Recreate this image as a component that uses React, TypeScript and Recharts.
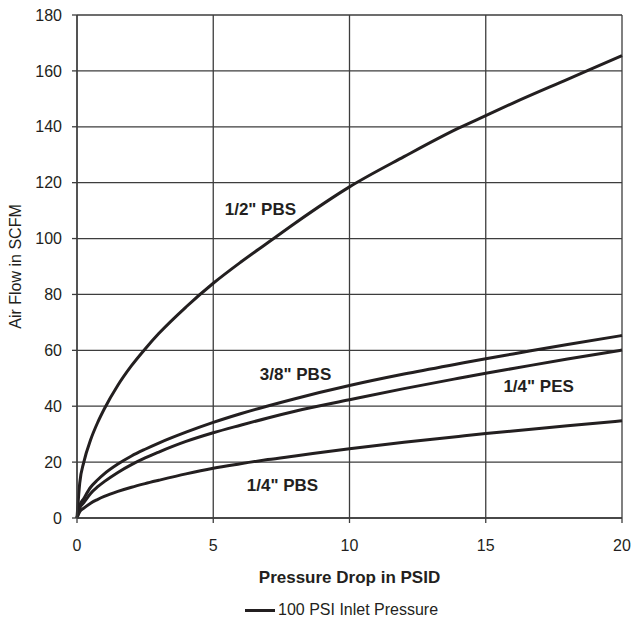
import React from "react";
import {
  LineChart,
  Line,
  XAxis,
  YAxis,
  CartesianGrid,
  ReferenceDot,
} from "recharts";

// Pressure drop (PSID) sample points
const pressureDrop = [0, 0.1, 0.25, 0.5, 0.75, 1, 1.5, 2, 2.5, 3, 4, 5, 6, 7, 8, 10, 12, 14, 15, 16, 18, 20];

// Air flow (SCFM)
const halfPbs = [0, 12.5, 20, 28, 34, 39, 47.5, 54.5, 60.5, 66, 75.5, 84, 91.5, 98.5, 105.5, 118.5, 129.3, 139.5, 144, 148.5, 157, 165.5];
const threeEighthPbs = [0, 4.5, 7, 11, 13.6, 15.8, 19.3, 22.2, 24.6, 26.8, 30.7, 34.2, 37.3, 40.1, 42.7, 47.4, 51.5, 55.2, 57, 58.7, 62.1, 65.3];
const quarterPes = [0, 3.5, 5.5, 8.8, 11.1, 13, 16.3, 19.1, 21.5, 23.6, 27.4, 30.5, 33.2, 35.8, 38.2, 42.3, 46.3, 50, 51.8, 53.5, 56.9, 60.1];
const quarterPbs = [0, 2.2, 3.5, 5.3, 6.6, 7.7, 9.5, 11, 12.3, 13.5, 15.8, 17.8, 19.4, 20.9, 22.2, 24.8, 27.1, 29.2, 30.2, 31.1, 33, 34.8];

const xTicks = [0, 5, 10, 15, 20];
const yTicks = [0, 20, 40, 60, 80, 100, 120, 140, 160, 180];

// Curve captions and where they sit (data coords)
const curveLabels = [
  { text: '1/2" PBS', x: 6.73, y: 110.6 },
  { text: '3/8" PBS', x: 8.02, y: 51.7 },
  { text: '1/4" PES', x: 16.94, y: 47.1 },
  { text: '1/4" PBS', x: 7.54, y: 11.8 },
];

const series = [
  { key: "halfPbs", values: halfPbs },
  { key: "threeEighthPbs", values: threeEighthPbs },
  { key: "quarterPes", values: quarterPes },
  { key: "quarterPbs", values: quarterPbs },
];

const INK = "#231f20";
const GRID = "#3d3d3d";

const chartData = pressureDrop.map((x, i) => {
  const point: Record<string, number> = { x };
  series.forEach((s) => {
    point[s.key] = s.values[i];
  });
  return point;
});

export default function App() {
  return (
    <div
      style={{
        position: "relative",
        width: 631,
        height: 617,
        fontFamily: "'Liberation Sans', Arial, Helvetica, sans-serif",
        background: "#fff",
      }}
    >
      <style>{"body{margin:0}"}</style>
      <LineChart
        width={631}
        height={617}
        data={chartData}
        margin={{ top: 15, right: 9, bottom: 51, left: 0 }}
      >
        <CartesianGrid stroke={GRID} strokeWidth={1.3} />
        <XAxis
          dataKey="x"
          type="number"
          domain={[0, 20]}
          ticks={xTicks}
          tick={{ fontSize: 16, fill: INK }}
          tickLine={{ stroke: GRID, strokeWidth: 1.3 }}
          axisLine={{ stroke: GRID, strokeWidth: 1.3 }}
          tickSize={5}
          tickMargin={17}
          height={48}
          label={{
            value: "Pressure Drop in PSID",
            position: "bottom",
            offset: 5,
            fontSize: 17,
            fontWeight: "bold",
            fill: INK,
          }}
        />
        <YAxis
          type="number"
          domain={[0, 180]}
          ticks={yTicks}
          width={77}
          tick={{ fontSize: 16, fill: INK }}
          tickLine={{ stroke: GRID, strokeWidth: 1.3 }}
          axisLine={{ stroke: GRID, strokeWidth: 1.3 }}
          tickSize={5}
          tickMargin={10}
          label={{
            value: "Air Flow in SCFM",
            angle: -90,
            position: "insideLeft",
            offset: 15,
            fontSize: 16,
            fill: INK,
            style: { textAnchor: "middle" },
          }}
        />
        {series.map((s) => (
          <Line
            key={s.key}
            dataKey={s.key}
            type="monotone"
            stroke={INK}
            strokeWidth={3}
            dot={false}
            activeDot={false}
            isAnimationActive={false}
          />
        ))}
        {curveLabels.map((l) => (
          <ReferenceDot
            key={l.text}
            x={l.x}
            y={l.y}
            r={0}
            fill="none"
            stroke="none"
            label={{
              value: l.text,
              position: "center",
              fontSize: 17,
              fontWeight: "bold",
              fill: INK,
            }}
          />
        ))}
      </LineChart>

      {/* legend */}
      <div
        style={{
          position: "absolute",
          left: 245,
          top: 601,
          display: "flex",
          alignItems: "center",
          fontSize: 16,
          color: INK,
          whiteSpace: "nowrap",
        }}
      >
        <div style={{ width: 30, height: 3, background: INK, marginRight: 3 }} />
        <span>100 PSI Inlet Pressure</span>
      </div>
    </div>
  );
}
